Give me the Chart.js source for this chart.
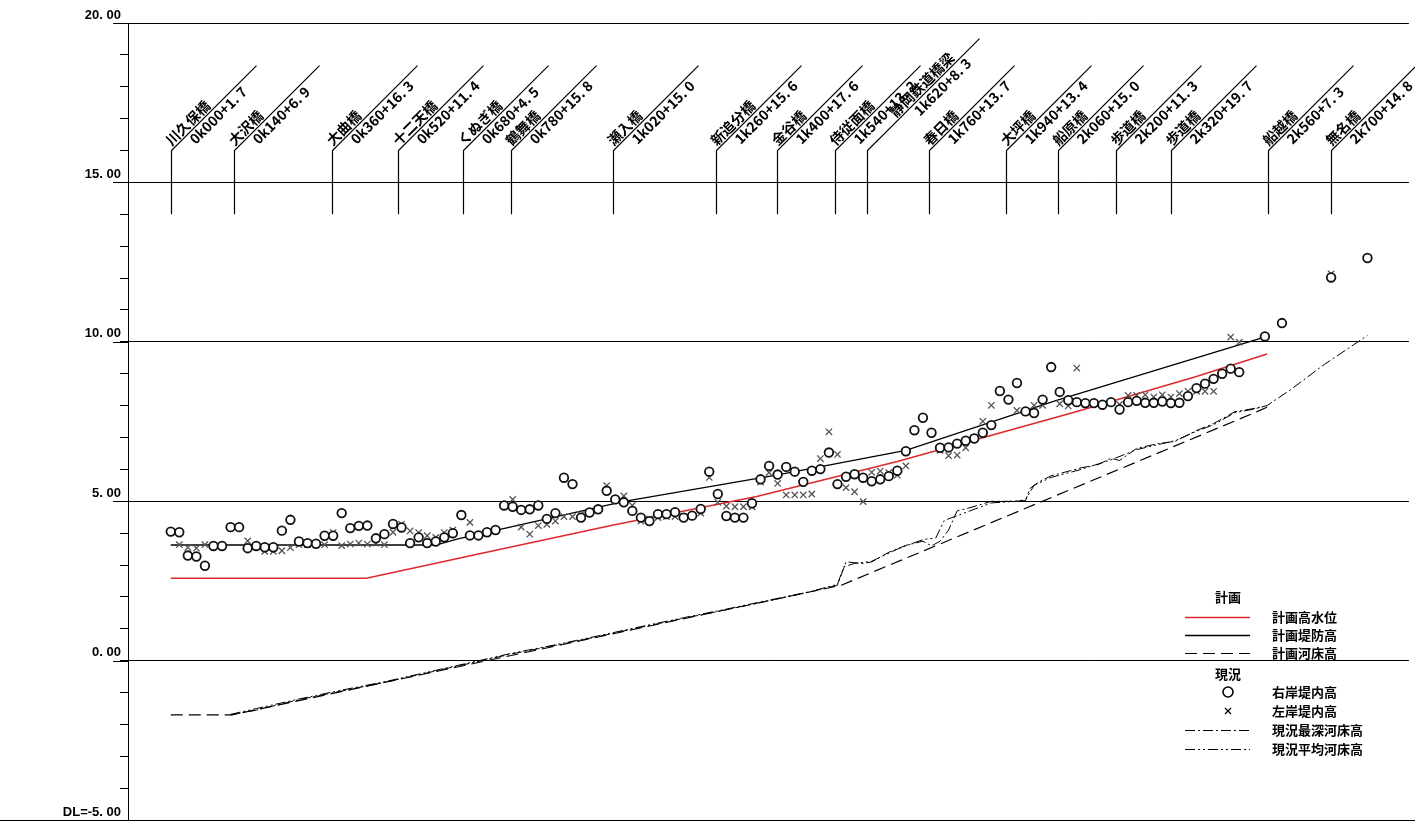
<!DOCTYPE html>
<html>
<head>
<meta charset="utf-8">
<script src="https://cdn.jsdelivr.net/npm/chart.js@4"></script>
<style>
  html, body { margin: 0; padding: 0; background: #fff; }
  canvas { display: block; }
</style>
</head>
<body>
<canvas id="profileChart" width="1415" height="827"></canvas>
<script>
// longitudinal profile, x = distance (m), y = elevation (m)

const planHighWater = [[0, 2.59], [458, 2.59], [720, 3.35], [1033, 4.25], [1371, 5.15], [1700, 6.25], [2116, 7.8], [2396, 8.9], [2565, 9.62]];
const planLevee = [[0, 3.63], [620, 3.63], [672, 3.82], [1061, 5.0], [1417, 5.82], [1720, 6.6], [2069, 8.15], [2565, 10.17]];
const planBed = [[0, -1.7], [143, -1.7], [1569, 2.37], [2531, 7.75], [2565, 7.95]];

const bedDeepest = [
  [140, -1.7], [200, -1.55], [300, -1.22], [400, -0.95], [500, -0.68], [600, -0.38], [700, -0.08],
  [800, 0.22], [900, 0.48], [1000, 0.76], [1100, 1.05], [1200, 1.33], [1300, 1.6], [1400, 1.88],
  [1500, 2.17], [1560, 2.37], [1580, 3.1], [1620, 3.05], [1640, 3.1], [1680, 3.4], [1720, 3.62],
  [1760, 3.75], [1780, 3.6], [1800, 3.75], [1820, 4.1], [1840, 4.7], [1870, 4.8], [1920, 5.0],
  [1960, 5.0], [2000, 5.02], [2010, 5.4], [2030, 5.6], [2060, 5.8], [2130, 6.05], [2170, 6.15],
  [2200, 6.35], [2220, 6.28], [2260, 6.66], [2310, 6.81], [2350, 6.88], [2400, 7.22], [2440, 7.44],
  [2490, 7.81], [2530, 7.9], [2565, 8.0], [2620, 8.5], [2700, 9.3], [2800, 10.2]
];
const bedAverage = [
  [140, -1.68], [200, -1.5], [300, -1.2], [400, -0.92], [500, -0.66], [600, -0.36], [700, -0.06],
  [800, 0.24], [900, 0.5], [1000, 0.78], [1100, 1.07], [1200, 1.35], [1300, 1.62], [1400, 1.9],
  [1500, 2.18], [1560, 2.4], [1575, 2.95], [1600, 3.05], [1640, 3.12], [1700, 3.5], [1760, 3.8],
  [1790, 3.85], [1810, 4.4], [1840, 4.55], [1880, 4.75], [1920, 4.95], [1980, 5.0], [2000, 5.05],
  [2020, 5.5], [2060, 5.75], [2130, 6.0], [2200, 6.3], [2260, 6.62], [2310, 6.78], [2350, 6.9],
  [2400, 7.2], [2440, 7.4], [2490, 7.78], [2530, 7.88], [2565, 8.0]
];

const rightBank = [
  [0, 4.05], [20, 4.03], [40, 3.3], [60, 3.27], [80, 2.98], [100, 3.6], [120, 3.6], [140, 4.19], [160, 4.19],
  [180, 3.53], [200, 3.6], [220, 3.56], [240, 3.56], [260, 4.08], [280, 4.42], [300, 3.74], [320, 3.69],
  [340, 3.67], [360, 3.92], [380, 3.92], [400, 4.63], [420, 4.16], [440, 4.23], [460, 4.24], [480, 3.84],
  [500, 3.97], [520, 4.29], [540, 4.18], [560, 3.69], [580, 3.87], [600, 3.69], [620, 3.74], [640, 3.87],
  [660, 4.0], [680, 4.57], [700, 3.93], [720, 3.93], [740, 4.03], [760, 4.1], [780, 4.87], [800, 4.83],
  [820, 4.73], [840, 4.75], [860, 4.87], [880, 4.45], [900, 4.63], [920, 5.74], [940, 5.54], [960, 4.49],
  [980, 4.65], [1000, 4.75], [1020, 5.33], [1040, 5.06], [1060, 4.97], [1080, 4.7], [1100, 4.49], [1120, 4.38],
  [1140, 4.6], [1160, 4.6], [1180, 4.66], [1200, 4.49], [1220, 4.55], [1240, 4.76], [1260, 5.93], [1280, 5.23],
  [1300, 4.54], [1320, 4.49], [1340, 4.49], [1360, 4.94], [1380, 5.69], [1400, 6.11], [1420, 5.84], [1440, 6.08],
  [1460, 5.93], [1480, 5.61], [1500, 5.96], [1520, 6.01], [1540, 6.53], [1560, 5.54], [1580, 5.77], [1600, 5.85],
  [1620, 5.74], [1640, 5.63], [1660, 5.69], [1680, 5.79], [1700, 5.96], [1720, 6.57], [1740, 7.23], [1760, 7.62],
  [1780, 7.15], [1800, 6.68], [1820, 6.69], [1840, 6.81], [1860, 6.9], [1880, 6.97], [1900, 7.15], [1920, 7.39],
  [1940, 8.46], [1960, 8.19], [1980, 8.71], [2000, 7.82], [2020, 7.77], [2040, 8.19], [2060, 9.21], [2080, 8.43],
  [2100, 8.17], [2120, 8.11], [2140, 8.08], [2160, 8.08], [2180, 8.03], [2200, 8.11], [2220, 7.88], [2240, 8.11],
  [2260, 8.15], [2280, 8.09], [2300, 8.09], [2320, 8.13], [2340, 8.08], [2360, 8.09], [2380, 8.3], [2400, 8.55],
  [2420, 8.69], [2440, 8.84], [2460, 9.0], [2480, 9.16], [2500, 9.05], [2560, 10.17], [2600, 10.59],
  [2715, 12.02], [2800, 12.63]
];
const leftBank = [
  [0, 4.05], [20, 3.64], [40, 3.55], [60, 3.53], [80, 3.64], [100, 3.62], [120, 3.62], [140, 4.19], [160, 4.19],
  [180, 3.76], [200, 3.6], [220, 3.43], [240, 3.43], [260, 3.45], [280, 3.55], [300, 3.64], [320, 3.64],
  [340, 3.64], [360, 3.64], [380, 4.02], [400, 3.61], [420, 3.66], [440, 3.69], [460, 3.66], [480, 3.69],
  [500, 3.64], [520, 4.03], [540, 4.28], [560, 4.07], [580, 4.02], [600, 3.92], [620, 3.87], [640, 4.02],
  [660, 4.1], [680, 4.57], [700, 4.34], [720, 3.93], [740, 4.0], [760, 4.08], [780, 4.87], [800, 5.06],
  [820, 4.19], [840, 3.97], [860, 4.24], [880, 4.28], [900, 4.38], [920, 4.52], [940, 4.52], [960, 4.59],
  [980, 4.65], [1000, 4.75], [1020, 5.49], [1040, 5.06], [1060, 5.17], [1080, 4.87], [1100, 4.38], [1120, 4.45],
  [1140, 4.49], [1160, 4.52], [1180, 4.52], [1200, 4.52], [1220, 4.55], [1240, 4.63], [1260, 5.75], [1280, 4.97],
  [1300, 4.85], [1320, 4.83], [1340, 4.83], [1360, 4.83], [1380, 5.6], [1400, 5.9], [1420, 5.56], [1440, 5.2],
  [1460, 5.2], [1480, 5.2], [1500, 5.23], [1520, 6.34], [1540, 7.18], [1560, 6.47], [1580, 5.43], [1600, 5.3],
  [1620, 4.99], [1640, 5.91], [1660, 5.95], [1680, 5.9], [1700, 5.82], [1720, 6.11], [1740, 7.23], [1760, 7.62],
  [1780, 7.15], [1800, 6.6], [1820, 6.43], [1840, 6.45], [1860, 6.68], [1880, 7.0], [1900, 7.51], [1920, 8.01],
  [1940, 8.46], [1960, 8.19], [1980, 7.85], [2000, 7.8], [2020, 8.01], [2040, 8.01], [2060, 9.21], [2080, 8.06],
  [2100, 7.99], [2120, 9.18], [2140, 8.05], [2160, 8.08], [2180, 8.03], [2200, 8.11], [2220, 8.04], [2240, 8.32],
  [2260, 8.32], [2280, 8.34], [2300, 8.27], [2320, 8.34], [2340, 8.27], [2360, 8.38], [2380, 8.45], [2400, 8.45],
  [2420, 8.45], [2440, 8.45], [2480, 10.15], [2500, 9.99], [2560, 10.17], [2600, 10.59], [2715, 12.13], [2800, 12.63]
];

const bridgeNames = ["川久保橋", "大沢橋", "大曲橋", "十二天橋", "くぬぎ橋", "鶴舞橋", "瀬入橋", "新追分橋", "金谷橋",
  "侍従面橋", "静岡鉄道橋梁", "春日橋", "大坪橋", "船原橋", "歩道橋", "歩道橋", "船越橋", "無名橋"];
const bridgeStations = ["0k000+1. 7", "0k140+6. 9", "0k360+16. 3", "0k520+11. 4", "0k680+4. 5", "0k780+15. 8",
  "1k020+15. 0", "1k260+15. 6", "1k400+17. 6", "1k540+13. 2", "1k620+8. 3", "1k760+13. 7", "1k940+13. 4",
  "2k060+15. 0", "2k200+11. 3", "2k320+19. 7", "2k560+7. 3", "2k700+14. 8"];
const bridgeDist = [1.7, 146.9, 376.3, 531.4, 684.5, 795.8, 1035.0, 1275.6, 1417.6, 1553.2, 1628.3, 1773.7,
  1953.4, 2075.0, 2211.3, 2339.7, 2567.3, 2714.8];

const yTickLabels = { 20: "20. 00", 15: "15. 00", 10: "10. 00", 5: "5. 00", 0: "0. 00", "-5": "DL=-5. 00" };

const toXY = (arr) => arr.map(([x, y]) => ({ x, y }));
const jpFont = "'Noto Sans CJK JP', 'Noto Sans', sans-serif";

const lineBase = { showLine: true, pointRadius: 0, fill: false, tension: 0, borderCapStyle: "butt" };

const datasets = [
  {
    label: "右岸堤内高", data: toXY(rightBank), showLine: false,
    pointStyle: "circle", pointRadius: 4.3, pointBorderWidth: 1.8,
    pointBorderColor: "#111", pointBackgroundColor: "#fff",
  },
  {
    label: "左岸堤内高", data: toXY(leftBank), showLine: false,
    pointStyle: "crossRot", pointRadius: 4.5, pointBorderWidth: 1.3,
    pointBorderColor: "#555", pointBackgroundColor: "#555",
  },
  { ...lineBase, label: "計画高水位", data: toXY(planHighWater), borderColor: "#e0282a", borderWidth: 1.5 },
  { ...lineBase, label: "計画堤防高", data: toXY(planLevee), borderColor: "#000", borderWidth: 1.3 },
  { ...lineBase, label: "計画河床高", data: toXY(planBed), borderColor: "#000", borderWidth: 1.2, borderDash: [12, 6] },
  { ...lineBase, label: "現況最深河床高", data: toXY(bedDeepest), borderColor: "#000", borderWidth: 1, borderDash: [10, 3, 2, 3] },
  { ...lineBase, label: "現況平均河床高", data: toXY(bedAverage), borderColor: "#000", borderWidth: 1, borderDash: [10, 3, 2, 3, 2, 3] },
];

// y-axis extras: major line stubs under the labels, bottom rule across the page
const axisExtras = {
  id: "axisExtras",
  afterDraw(chart) {
    const { ctx, scales: { y }, chartArea } = chart;
    ctx.save();
    ctx.strokeStyle = "#000";
    ctx.lineWidth = 1;
    [20, 15, 10, 5, 0].forEach((v) => {
      const py = Math.round(y.getPixelForValue(v)) + 0.5;
      ctx.beginPath();
      ctx.moveTo(113, py);
      ctx.lineTo(chartArea.left, py);
      ctx.stroke();
    });
    const pb = Math.round(y.getPixelForValue(-5)) + 0.5;
    ctx.beginPath();
    ctx.moveTo(0, pb);
    ctx.lineTo(chart.width, pb);
    ctx.stroke();
    ctx.restore();
  },
};

// bridge markers with rotated labels
const bridgeMarks = {
  id: "bridgeMarks",
  afterDraw(chart) {
    const { ctx, scales: { x, y } } = chart;
    const yLow = y.getPixelForValue(14);
    const yBend = y.getPixelForValue(16);
    ctx.save();
    ctx.strokeStyle = "#000";
    ctx.fillStyle = "#000";
    ctx.lineWidth = 1.2;
    bridgeDist.forEach((d, i) => {
      const px = Math.round(x.getPixelForValue(d)) + 0.5;
      const rail = bridgeNames[i] === "静岡鉄道橋梁";
      const diag = rail ? 112 : 85;
      const shift = rail ? 40 : 0;
      ctx.beginPath();
      ctx.moveTo(px, yLow);
      ctx.lineTo(px, yBend);
      ctx.lineTo(px + diag, yBend - diag);
      ctx.stroke();

      ctx.save();
      ctx.translate(px, yBend);
      ctx.rotate(-Math.PI / 4);
      ctx.textAlign = "left";
      ctx.font = `bold 14px ${jpFont}`;
      ctx.textBaseline = "bottom";
      ctx.fillText(bridgeNames[i], 3 + shift, -1);
      ctx.font = `bold 14px ${jpFont}`;
      ctx.textBaseline = "top";
      ctx.fillText(bridgeStations[i], 21 + shift, 1);
      ctx.restore();
    });
    ctx.restore();
  },
};

// legend block (bottom right), styles read from datasets
const profileLegend = {
  id: "profileLegend",
  afterDraw(chart) {
    const { ctx } = chart;
    const ds = chart.data.datasets;
    const byLabel = (l) => ds.find((d) => d.label === l);
    const x0 = 1185, x1 = 1250, tx = 1272, cx = 1228;
    const rows = [
      { head: "計画", y: 597 },
      { set: "計画高水位", y: 617 },
      { set: "計画堤防高", y: 635 },
      { set: "計画河床高", y: 653 },
      { head: "現況", y: 674 },
      { set: "右岸堤内高", y: 692 },
      { set: "左岸堤内高", y: 711 },
      { set: "現況最深河床高", y: 730 },
      { set: "現況平均河床高", y: 749 },
    ];
    ctx.save();
    ctx.font = `bold 13px ${jpFont}`;
    ctx.textBaseline = "middle";
    ctx.fillStyle = "#000";
    rows.forEach((r) => {
      if (r.head) {
        ctx.textAlign = "center";
        ctx.fillText(r.head, cx, r.y);
        return;
      }
      const d = byLabel(r.set);
      if (d.showLine) {
        ctx.strokeStyle = d.borderColor;
        ctx.lineWidth = d.borderWidth;
        ctx.setLineDash(d.borderDash || []);
        ctx.beginPath();
        ctx.moveTo(x0, r.y + 0.5);
        ctx.lineTo(x1, r.y + 0.5);
        ctx.stroke();
        ctx.setLineDash([]);
      } else if (d.pointStyle === "circle") {
        ctx.strokeStyle = "#000";
        ctx.lineWidth = 1.6;
        ctx.beginPath();
        ctx.arc(cx, r.y, 5, 0, Math.PI * 2);
        ctx.stroke();
      } else {
        ctx.strokeStyle = "#000";
        ctx.lineWidth = 1.3;
        ctx.beginPath();
        ctx.moveTo(cx - 3, r.y - 3);
        ctx.lineTo(cx + 3, r.y + 3);
        ctx.moveTo(cx + 3, r.y - 3);
        ctx.lineTo(cx - 3, r.y + 3);
        ctx.stroke();
      }
      ctx.textAlign = "left";
      ctx.fillText(r.set, tx, r.y);
    });
    ctx.restore();
  },
};

new Chart(document.getElementById("profileChart").getContext("2d"), {
  type: "scatter",
  data: { datasets },
  options: {
    responsive: false,
    animation: false,
    devicePixelRatio: 1,
    layout: { padding: { top: 23, bottom: 4, left: 0, right: 0 } },
    plugins: { legend: { display: false }, tooltip: { enabled: false } },
    scales: {
      x: { type: "linear", min: -100, max: 2897, display: false },
      y: {
        type: "linear",
        min: -5,
        max: 20,
        afterFit: (s) => { s.width = 128; },
        ticks: {
          stepSize: 1,
          autoSkip: false,
          padding: -1,
          labelOffset: -8,
          color: "#000",
          font: { family: "'Liberation Sans', Arial, sans-serif", size: 13, weight: "bold" },
          callback: (v) => yTickLabels[v] ?? "",
        },
        grid: {
          color: (c) => (c.tick && c.tick.value % 5 === 0 ? "#000" : "rgba(0,0,0,0)"),
          tickColor: "#000",
          tickLength: 8,
          lineWidth: 1,
        },
        border: { color: "#000", width: 1 },
      },
    },
  },
  plugins: [axisExtras, bridgeMarks, profileLegend],
});
</script>
</body>
</html>
